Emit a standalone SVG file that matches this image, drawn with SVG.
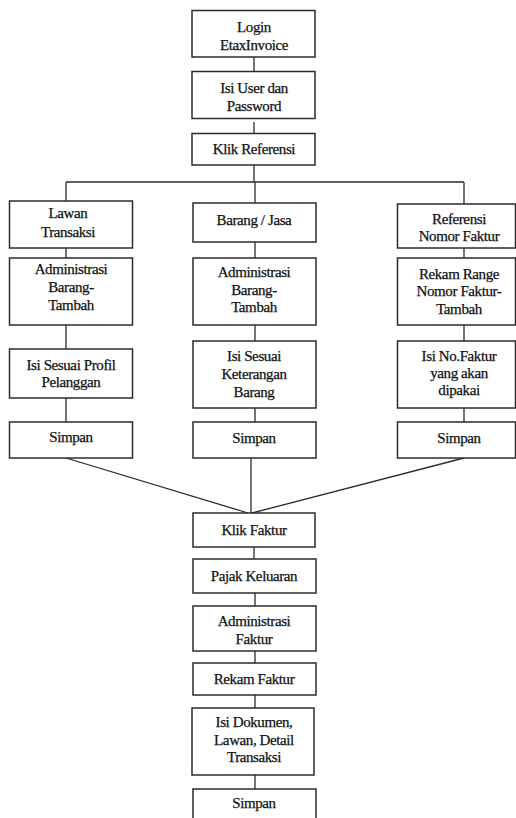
<svg xmlns="http://www.w3.org/2000/svg" width="516" height="818" viewBox="0 0 516 818">
<style>
.b{fill:#fff;stroke:#2b2b2b;stroke-width:1.5}
.t{font-family:'Liberation Serif','DejaVu Serif','Times New Roman',serif;font-size:15px;fill:#111;stroke:#111;stroke-width:0.25;text-anchor:middle;letter-spacing:-0.4px}
.c{fill:none;stroke:#2b2b2b;stroke-width:1.3}
</style>
<rect width="516" height="818" fill="#fff"/>
<g id="connectors">
<path class="c" d="M254 57V72M254 122V134M254 165V182M66 182H464M66 182V201M255 182V203M464 182V204"/>
<path class="c" d="M66 248V258M66 325V349M66 398V422"/>
<path class="c" d="M255 242V258M255 325V341M255 408V422"/>
<path class="c" d="M464 248V258M464 325V341M464 408V422"/>
<path class="c" d="M66 458L248 513M464 458L252 513M251 458V513"/>
<path class="c" d="M254 547V559M255 593V606M255 651V663M255 695V708M255 775V789"/>
</g>
<g id="n1"><rect class="b" x="192" y="10.5" width="123" height="46.5"/><text class="t" x="254" y="32">Login</text><text class="t" x="254" y="50">EtaxInvoice</text></g>
<g id="n2"><rect class="b" x="192" y="71.5" width="123" height="47"/><text class="t" x="254" y="93">Isi User dan</text><text class="t" x="254" y="111">Password</text></g>
<g id="n3"><rect class="b" x="192" y="133.5" width="123" height="31.5"/><text class="t" x="254" y="154">Klik Referensi</text></g>
<g id="l1"><rect class="b" x="9.5" y="201" width="123" height="47"/><text class="t" x="68" y="218">Lawan</text><text class="t" x="68" y="236.5">Transaksi</text></g>
<g id="l2"><rect class="b" x="9.5" y="258" width="123" height="67"/><text class="t" x="71" y="274">Administrasi</text><text class="t" x="71" y="292">Barang-</text><text class="t" x="71" y="309.5">Tambah</text></g>
<g id="l3"><rect class="b" x="9.5" y="349" width="123" height="49"/><text class="t" x="71" y="370">Isi Sesuai Profil</text><text class="t" x="71" y="387">Pelanggan</text></g>
<g id="l4"><rect class="b" x="9.5" y="422" width="123" height="36"/><text class="t" x="71" y="442">Simpan</text></g>
<g id="m1"><rect class="b" x="193" y="203" width="123" height="39"/><text class="t" x="254" y="224.5">Barang / Jasa</text></g>
<g id="m2"><rect class="b" x="193" y="258" width="123" height="67"/><text class="t" x="254" y="277">Administrasi</text><text class="t" x="254" y="295">Barang-</text><text class="t" x="254" y="312">Tambah</text></g>
<g id="m3"><rect class="b" x="193" y="341" width="123" height="67"/><text class="t" x="254" y="361">Isi Sesuai</text><text class="t" x="254" y="378.5">Keterangan</text><text class="t" x="254" y="396.5">Barang</text></g>
<g id="m4"><rect class="b" x="193" y="422" width="123" height="36"/><text class="t" x="254" y="443">Simpan</text></g>
<g id="r1"><rect class="b" x="397.5" y="204" width="118" height="44"/><text class="t" x="459" y="223.5">Referensi</text><text class="t" x="459" y="240.5">Nomor Faktur</text></g>
<g id="r2"><rect class="b" x="397.5" y="258" width="118" height="67"/><text class="t" x="459" y="278.5">Rekam Range</text><text class="t" x="459" y="295.5">Nomor Faktur-</text><text class="t" x="459" y="314">Tambah</text></g>
<g id="r3"><rect class="b" x="397.5" y="341" width="118" height="67"/><text class="t" x="459" y="361">Isi No.Faktur</text><text class="t" x="459" y="377.5">yang akan</text><text class="t" x="459" y="395">dipakai</text></g>
<g id="r4"><rect class="b" x="397.5" y="422" width="118" height="36"/><text class="t" x="459" y="443">Simpan</text></g>
<g id="b1"><rect class="b" x="193" y="513" width="122" height="34"/><text class="t" x="254" y="534.5">Klik Faktur</text></g>
<g id="b2"><rect class="b" x="193" y="559" width="123" height="34"/><text class="t" x="254" y="580.5">Pajak Keluaran</text></g>
<g id="b3"><rect class="b" x="193" y="606" width="123" height="45"/><text class="t" x="254" y="626">Administrasi</text><text class="t" x="254" y="643.5">Faktur</text></g>
<g id="b4"><rect class="b" x="193" y="663" width="123" height="32"/><text class="t" x="254" y="684">Rekam Faktur</text></g>
<g id="b5"><rect class="b" x="192" y="708" width="122" height="67"/><text class="t" x="254" y="727">Isi Dokumen,</text><text class="t" x="254" y="745">Lawan, Detail</text><text class="t" x="254" y="762">Transaksi</text></g>
<g id="b6"><rect class="b" x="193" y="789" width="123" height="40"/><text class="t" x="254" y="808">Simpan</text></g>
</svg>
